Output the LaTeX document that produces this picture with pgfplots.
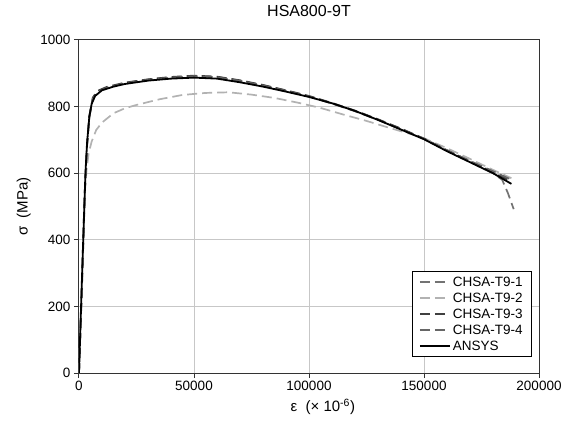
\documentclass[border=0pt]{standalone}
\usepackage{fontspec}
\setmainfont{Liberation Sans}
\usepackage{pgfplots}
\pgfplotsset{compat=1.18}
\begin{document}
\begin{tikzpicture}
\path[use as bounding box] (-79pt,-55pt) rectangle (490pt,373pt);
\begin{axis}[
    at={(0pt,0pt)}, anchor=south west,
    scale only axis, width=460pt, height=333pt,
    xmin=0, xmax=200000, ymin=0, ymax=1000,
    xtick={0,50000,100000,150000,200000},
    xticklabels={0,50000,100000,150000,200000},
    ytick={0,200,400,600,800,1000},
    yticklabels={0,200,400,600,800,1000},
    scaled x ticks=false,
    tick label style={font=\fontsize{13.5}{15}\selectfont},
    grid=major,
    major grid style={black!22, line width=1pt},
    axis line style={black!80, line width=1pt},
    tick style={black!80, line width=1pt},
    tick align=outside, xtick pos=bottom, ytick pos=left,
    major tick length=5pt,
    title={HSA800-9T},
    title style={at={(axis description cs:0.5,1.069)}, anchor=center, font=\fontsize{16}{18}\selectfont},
    xlabel={ε\ \ (× 10\textsuperscript{-6})},
    xlabel style={at={(axis description cs:0.53,-0.102)}, anchor=center, font=\fontsize{15}{17}\selectfont},
    ylabel={σ\ \ (MPa)},
    ylabel style={at={(axis description cs:-0.12,0.5)}, anchor=center, font=\fontsize{15}{17}\selectfont},
    legend style={at={(rel axis cs:0.985,0.048)}, anchor=south east,
        draw=black, line width=1pt, fill=white,
        font=\fontsize{13.5}{15}\selectfont,
        inner xsep=7pt, inner ysep=3pt, row sep=1pt},
    legend cell align=left,
    legend image code/.code={\draw[#1] (0pt,0pt) -- (30pt,0pt);},
]
% CHSA-T9-1
\addplot[black!55, line width=1.7pt, dash pattern=on 10pt off 5pt] coordinates {
    (0,0) (1200,250) (2500,540) (3500,680) (4500,770) (6000,825) (8000,845)
    (12000,857) (20000,871) (30000,881) (40000,888) (50000,892) (60000,889)
    (70000,878) (80000,864) (90000,848) (100000,831) (110000,810) (120000,787)
    (130000,761) (140000,733) (150000,703) (160000,668) (170000,634)
    (180000,600) (184000,580) (186500,540) (189000,492)
};
% CHSA-T9-2
\addplot[black!30, line width=1.7pt, dash pattern=on 10pt off 5pt] coordinates {
    (0,0) (1200,250) (2500,540) (3300,610) (4200,660) (5500,695) (7500,730)
    (10000,752) (15000,780) (20000,795) (25000,805) (35000,822) (45000,835)
    (55000,841) (65000,843) (75000,836) (85000,826) (95000,812) (105000,796)
    (115000,776) (125000,757) (135000,736) (145000,716) (150000,705)
    (160000,675) (170000,643) (180000,610) (188000,585)
};
% CHSA-T9-3
\addplot[black!75, line width=1.7pt, dash pattern=on 10pt off 5pt] coordinates {
    (0,0) (1300,260) (2600,550) (3500,685) (4500,772) (6000,827) (8000,847)
    (12000,859) (20000,872) (30000,882) (40000,889) (50000,893) (60000,890)
    (70000,879) (80000,865) (90000,849) (100000,832) (110000,811) (120000,788)
    (130000,762) (140000,734) (150000,704) (160000,669) (170000,636)
    (180000,603) (187500,577)
};
% CHSA-T9-4
\addplot[black!60, line width=1.7pt, dash pattern=on 10pt off 5pt] coordinates {
    (0,0) (1100,240) (2400,530) (3400,675) (4400,765) (6000,823) (8000,843)
    (12000,856) (20000,870) (30000,880) (40000,887) (50000,891) (60000,888)
    (70000,877) (80000,863) (90000,847) (100000,830) (110000,809) (120000,786)
    (130000,760) (140000,732) (150000,703) (160000,669) (170000,637)
    (180000,606) (187500,582)
};
% ANSYS
\addplot[black, line width=1.8pt] coordinates {
    (0,0) (1500,330) (2800,600) (3500,690) (4500,770) (5500,808) (7000,832)
    (10000,849) (15000,860) (20000,868) (30000,878) (40000,884) (50000,887)
    (60000,884) (70000,873) (80000,860) (90000,845) (100000,829) (110000,810)
    (120000,787) (130000,760) (140000,731) (150000,702) (160000,666)
    (170000,633) (180000,600) (188000,568)
};
\legend{CHSA-T9-1,CHSA-T9-2,CHSA-T9-3,CHSA-T9-4,ANSYS}
\end{axis}
\end{tikzpicture}
\end{document}
